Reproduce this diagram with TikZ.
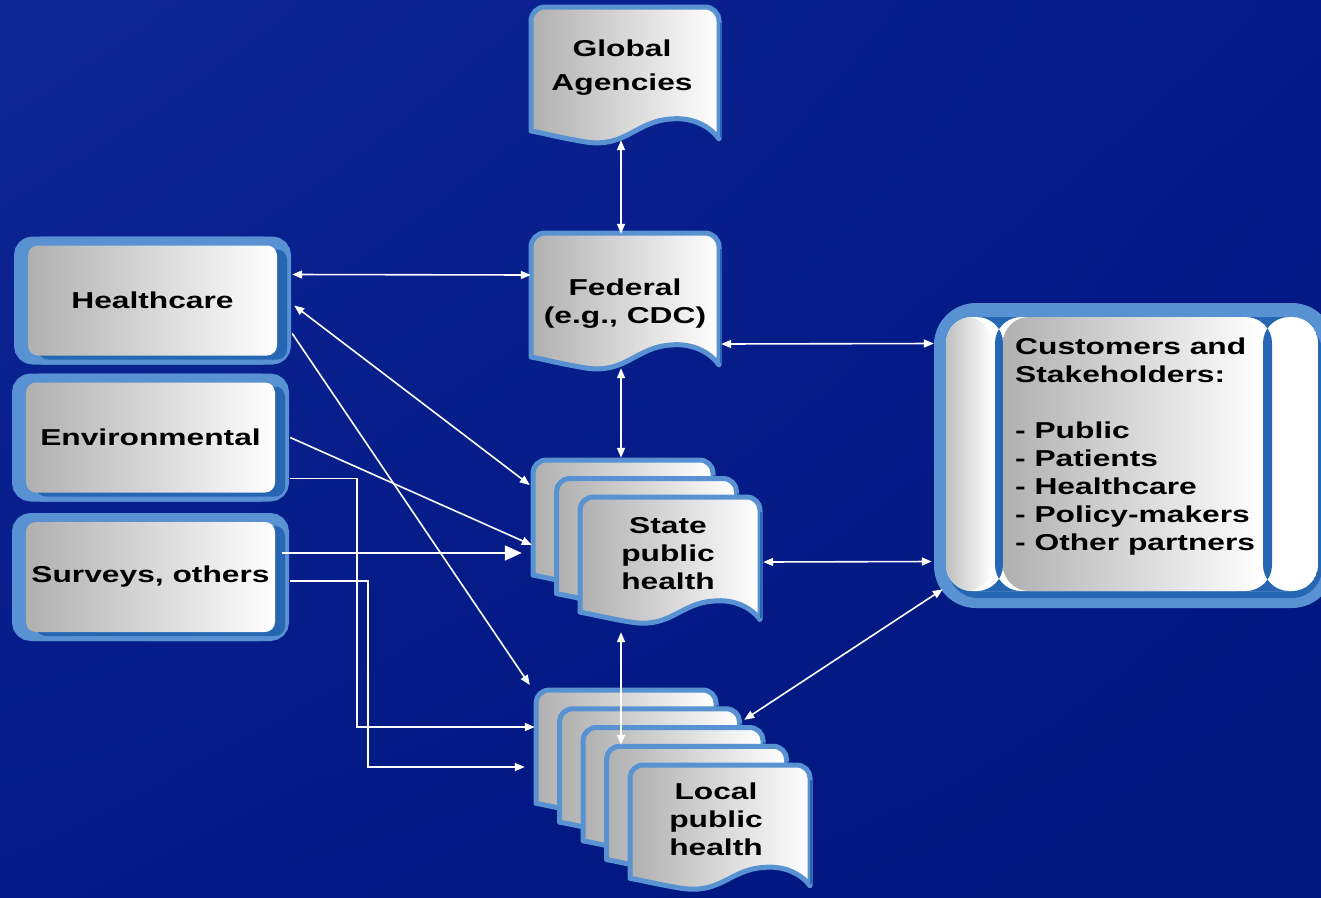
\documentclass[tikz,border=0pt]{standalone}
\usepackage{fontspec}
\setmainfont{Liberation Sans}[FakeStretch=1.38]
\usetikzlibrary{arrows.meta,scopes,shadings}

\definecolor{navy}{RGB}{3,26,135}
\definecolor{navylight}{RGB}{14,38,148}
\definecolor{navydark}{RGB}{0,22,126}
\definecolor{rimblue}{RGB}{88,146,210}
\definecolor{deepblue}{RGB}{38,102,178}
\definecolor{paper}{RGB}{176,176,176}

\tikzset{
  rim/.style={draw=rimblue,line width=5pt,line join=round},
  sheetfill/.style={left color=paper,right color=white},
  srcbox/.style={minimum width=249,minimum height=110,rounded corners=10,
     left color=paper,right color=white,
     preaction={draw=rimblue,line width=18,transform canvas={xshift=-5pt}},
     preaction={draw=rimblue,line width=18,transform canvas={xshift=5pt}},
     preaction={fill=deepblue,transform canvas={xshift=10pt,yshift=-4pt}}},
  lbl/.style={font=\bfseries\fontsize{23}{28}\selectfont,align=center,text=black},
  bigframe/.style={minimum width=188,minimum height=140,inner sep=0pt},
  pageframe/.style={minimum width=180,minimum height=130,inner sep=0pt},
  link/.style={draw=white,line width=1.6pt},
}

% one sheet with a wavy lower edge: top left corner, width, height
\newcommand{\sheet}[3]{%
  \path[sheetfill,rim,shift={#1},xscale=#2/188,yscale=#3/140]
    (188,132) -- (188,14) arc[start angle=0,end angle=-90,radius=14]
    -- (14,0) arc[start angle=-90,end angle=-180,radius=14]
    -- (0,124) .. controls (12,126) and (30,131) .. (55,135)
    .. controls (95,141) and (105,114) .. (140,112)
    .. controls (160,110) and (178,118) .. cycle;
  \draw[deepblue,line width=2pt,shift={#1},xscale=#2/188,yscale=#3/140]
    (189.5,16) -- (189.5,130);
}

\begin{document}
\begin{tikzpicture}[x=1pt,y=-1pt,>={Triangle[length=10pt,width=8pt]}]
\useasboundingbox (0,0) rectangle (1321,897);
\shade[upper left=navylight,upper right=navy,lower left=navy,lower right=navydark]
      (0,0) rectangle (1321,897);

% customers and stakeholders
\path[fill=rimblue,rounded corners=42] (934,303) rectangle (1334,608);
\path[fill=deepblue,rounded corners=30] (948,322) rectangle (1322,598);
{[rounded corners=26]
 \clip (946,317) rectangle (1318,591);
 \fill[white] (946,317) rectangle (1318,591);
 \shade[left color=paper!80,right color=white] (946,317) rectangle (992,591);
 \fill[deepblue] (995,317) rectangle (1003,591);
 \shade[left color=paper,right color=white] (1003,317) rectangle (1263,591);
 \fill[deepblue] (1263,317) rectangle (1272,591);
}

% the sheets, back to front
\sheet{(531,7)}{188}{140}
\sheet{(531,233)}{188}{140}
\foreach \i in {0,1,2} {\sheet{(533+23.5*\i,460+18.5*\i)}{180}{130}}
\foreach \i in {0,...,4} {\sheet{(536+23.5*\i,690+18.75*\i)}{180}{128}}

\path node (hc)  [srcbox,lbl] at (152.5,300.5) {Healthcare}
      node (env) [srcbox,lbl] at (150.5,437.5) {Environmental}
      node (sur) [srcbox,lbl] at (150.5,577)   {Surveys, others}
      node (glob) [bigframe] at (625,77) {}
      node (globtext) [lbl,font=\bfseries\fontsize{23}{34}\selectfont] at (622,68) {Global\\Agencies}
      node (fed) [bigframe,lbl] at (625,304) {Federal\\(e.g., CDC)}
      node (state) [pageframe] at (670,562) {}
      node (statetext) [lbl] at (668,554) {State\\public\\health}
      node (local) [pageframe,minimum height=128] at (720,829) {}
      node (localtext) [lbl] at (716,819) {Local\\public\\health}
      node (cust) [minimum width=400,minimum height=305] at (1134,455.5) {}
      node (custtext) [lbl,align=left,anchor=north west,inner sep=0pt] at (1015,338)
           {Customers and\\Stakeholders:\\[28pt]- Public\\- Patients\\- Healthcare\\- Policy-makers\\- Other partners};

 {[link]
  \draw[<->] ([xshift=-4,yshift=7]glob.south) -- ([xshift=-4]fed.north);
  \draw[<->] ([xshift=15,yshift=26]hc.east)  -- ([yshift=29]fed.west);
  \draw[<->] ([xshift=17,yshift=-5]hc.east)  -- ([xshift=-50,yshift=77]state.west);
  \draw[->]  ([xshift=15,yshift=-33]hc.east) -- ([xshift=-100,yshift=144]local.west);
  \draw[->]  ([xshift=15]env.east)           -- ([xshift=-48,yshift=17]state.west);
  \draw[->,>={Triangle[length=17pt,width=15pt]}]
             ([xshift=7,yshift=24]sur.east)  -- ([xshift=-58,yshift=9]state.west);
  {[->]
  \draw ([xshift=15,yshift=-41]env.east) -- ++(67,0) |- ([xshift=-95,yshift=102]local.west);
  \draw ([xshift=15,yshift=-4]sur.east)  -- ++(78,0) |- ([xshift=-105,yshift=62]local.west);
  }
  {[<->]
  \draw ([xshift=-4,yshift=6]fed.south)    -- ([xshift=-49,yshift=39]state.north);
  \draw ([xshift=-49,yshift=-5]state.south) -- ([xshift=-99,yshift=20]local.north);
  \draw ([xshift=2,yshift=-40]fed.east)    -- ([yshift=112]cust.west);
  \draw ([xshift=3]state.east)             -- ([xshift=-2,yshift=-106]cust.west);
  \draw ([xshift=-66,yshift=45]local.north east) -- ([xshift=9,yshift=19]cust.south west);
  }
 }
\end{tikzpicture}
\end{document}
